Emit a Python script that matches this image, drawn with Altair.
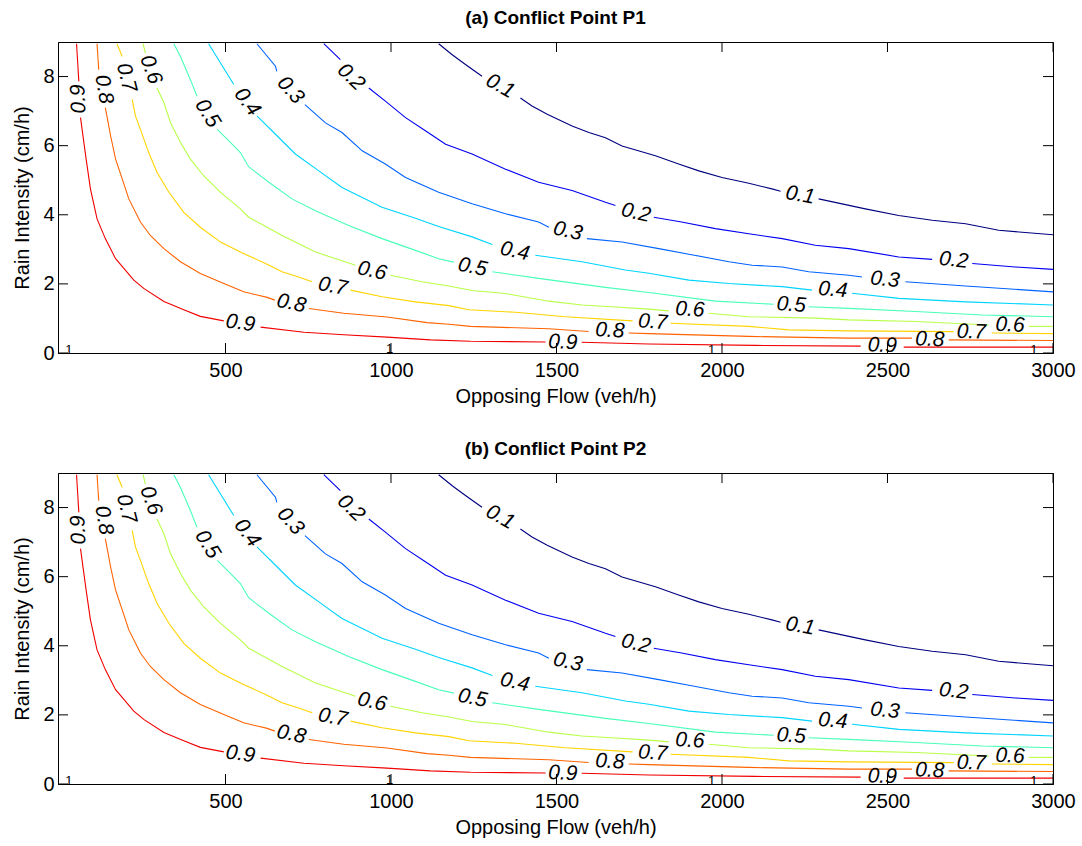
import altair as alt
import pandas as pd

# ---------------- data ----------------
LEVELS = ["0.1", "0.2", "0.3", "0.4", "0.5", "0.6", "0.7", "0.8", "0.9"]
JET = ["#000080", "#0000F1", "#0063FF", "#00D4FF", "#47FFB8",
       "#B8FF47", "#FFD400", "#FF6300", "#F10000"]

X_TICKS = [500, 1000, 1500, 2000, 2500, 3000]
Y_TICKS = [0, 2, 4, 6, 8]

# contour lines: list of visible segments (gaps are where labels sit)
C01 = [
    [(1144, 8.95), (1185, 8.63), (1225, 8.35), (1275, 8.01)],
    [(1391, 7.38), (1426, 7.15), (1472, 6.91), (1547, 6.57), (1598, 6.38), (1648, 6.23),
     (1698, 5.99), (1799, 5.71), (1869, 5.47), (1930, 5.27), (2000, 5.08), (2081, 4.91),
     (2151, 4.75), (2177, 4.68)],
    [(2292, 4.46), (2433, 4.17), (2534, 3.98), (2635, 3.84), (2736, 3.74), (2836, 3.55),
     (3000, 3.42)],
]
C02 = [
    [(797, 8.95), (847, 8.49)],
    [(933, 7.67), (983, 7.29), (1044, 6.81), (1104, 6.43), (1165, 6.04), (1245, 5.76),
     (1346, 5.32), (1446, 4.94), (1547, 4.70), (1648, 4.36), (1678, 4.27)],
    [(1794, 3.93), (1878, 3.79), (1980, 3.60), (2081, 3.45), (2182, 3.31), (2282, 3.12),
     (2383, 3.02), (2534, 2.78), (2635, 2.71)],
    [(2756, 2.59), (2886, 2.49), (3000, 2.42)],
]
C03 = [
    [(595, 8.95), (651, 8.30), (655, 8.15)],
    [(740, 7.19), (802, 6.66), (852, 6.38), (913, 5.85), (983, 5.47), (1044, 5.08),
     (1144, 4.65), (1245, 4.32), (1346, 4.03), (1446, 3.79), (1477, 3.64)],
    [(1592, 3.31), (1698, 3.21), (1809, 3.02), (1900, 2.86), (2021, 2.64), (2091, 2.54),
     (2182, 2.49), (2262, 2.35), (2383, 2.25), (2423, 2.20)],
    [(2554, 2.06), (2736, 1.94), (3000, 1.77)],
]
C04 = [
    [(449, 8.95), (485, 8.39), (525, 7.77)],
    [(595, 6.86), (651, 6.33), (711, 5.76), (782, 5.27), (852, 4.79), (973, 4.22),
     (1074, 3.90), (1144, 3.66), (1245, 3.36), (1306, 3.14)],
    [(1436, 2.83), (1577, 2.64), (1708, 2.40), (1779, 2.31), (1900, 2.11), (2021, 2.01),
     (2182, 1.92), (2272, 1.82)],
    [(2393, 1.73), (2534, 1.58), (2736, 1.48), (3000, 1.39)],
]
C05 = [
    [(344, 8.95), (364, 8.58), (394, 7.91), (414, 7.43)],
    [(475, 6.47), (505, 6.19), (545, 5.80), (570, 5.39), (631, 4.94), (701, 4.46),
     (772, 4.12), (872, 3.69), (973, 3.31), (1074, 2.97), (1144, 2.73), (1190, 2.63)],
    [(1306, 2.35), (1446, 2.16), (1547, 2.03), (1648, 1.90), (1779, 1.75), (1980, 1.50),
     (2156, 1.41)],
    [(2262, 1.34), (2383, 1.29), (2585, 1.20), (2786, 1.10), (3000, 1.05)],
]
C06 = [
    [(251, 8.95), (258, 8.68)],
    [(293, 7.67), (314, 7.24), (334, 6.66), (364, 6.09), (394, 5.61), (434, 5.13),
     (485, 4.65), (545, 4.17), (570, 3.93), (671, 3.40), (772, 2.92), (893, 2.54)],
    [(998, 2.25), (1094, 2.06), (1175, 1.94), (1245, 1.81), (1346, 1.72), (1477, 1.50),
     (1577, 1.39), (1678, 1.33), (1779, 1.27), (1839, 1.22)],
    [(1960, 1.15), (2081, 1.05), (2283, 1.01), (2383, 0.96), (2585, 0.91), (2806, 0.81)],
    [(2927, 0.77), (3000, 0.77)],
]
C07 = [
    [(172, 8.95), (188, 8.58)],
    [(218, 7.34), (228, 6.86), (243, 6.47), (268, 5.80), (293, 5.23), (329, 4.65),
     (374, 4.07), (424, 3.64), (485, 3.21), (545, 2.92), (621, 2.59), (671, 2.35),
     (721, 2.20), (762, 2.06)],
    [(878, 1.82), (973, 1.63), (1074, 1.48), (1175, 1.37), (1235, 1.25), (1376, 1.18),
     (1527, 1.05), (1730, 0.93)],
    [(1845, 0.86), (2081, 0.77), (2202, 0.67), (2383, 0.64), (2700, 0.62)],
    [(2815, 0.58), (3000, 0.56)],
]
C08 = [
    [(112, 8.95), (117, 8.20)],
    [(137, 7.10), (153, 6.28), (168, 5.61), (188, 5.04), (208, 4.46), (243, 3.79),
     (273, 3.40), (314, 3.02), (364, 2.64), (424, 2.30), (495, 2.01), (555, 1.77),
     (626, 1.61), (649, 1.53)],
    [(752, 1.29), (857, 1.15), (988, 1.04), (1109, 0.88), (1175, 0.83), (1240, 0.77),
     (1477, 0.70), (1597, 0.62)],
    [(1718, 0.58), (1779, 0.56), (2081, 0.48), (2383, 0.43), (2574, 0.43)],
    [(2685, 0.38), (3000, 0.36)],
]
C09 = [
    [(50, 8.95), (57, 7.86)],
    [(62, 6.81), (79, 5.61), (92, 4.75), (112, 3.88), (137, 3.31), (168, 2.73),
     (193, 2.45), (223, 2.11), (253, 1.87), (314, 1.49), (374, 1.25), (424, 1.06),
     (495, 0.93)],
    [(606, 0.75), (737, 0.60), (857, 0.53), (988, 0.46), (1119, 0.38), (1240, 0.34),
     (1467, 0.32)],
    [(1576, 0.31), (1779, 0.26), (2100, 0.22), (2419, 0.20)],
    [(2549, 0.17), (3000, 0.17)],
]
CONTOURS = [C01, C02, C03, C04, C05, C06, C07, C08, C09]

# inline contour labels
LBL_LEVEL = ["0.9", "0.8", "0.7", "0.6", "0.5", "0.4", "0.3", "0.2", "0.1",
             "0.9", "0.8", "0.7", "0.6", "0.5", "0.4", "0.3", "0.2", "0.1",
             "0.9", "0.8", "0.7", "0.6", "0.5", "0.4", "0.3", "0.2",
             "0.9", "0.8", "0.7", "0.6"]
LBL_X = [57, 132, 200, 274, 445, 565, 696, 879, 1330,
         545, 699, 824, 943, 1246, 1374, 1534, 1740, 2236,
         1519, 1661, 1791, 1903, 2209, 2335, 2492, 2700,
         2484, 2628, 2753, 2870]
LBL_Y = [7.35, 7.63, 7.97, 8.20, 6.93, 7.26, 7.60, 7.98, 7.72,
         0.86, 1.43, 1.92, 2.37, 2.48, 2.94, 3.52, 4.05, 4.56,
         0.30, 0.64, 0.89, 1.25, 1.39, 1.82, 2.12, 2.68,
         0.21, 0.38, 0.60, 0.80]
LBL_ANGLE = [267, 80, 76, 70, 58, 53, 48, 44, 29,
             8, 12, 11, 13, 12, 12, 13, 13, 10,
             2, 3, 4, 3, 4, 5, 6, 6,
             2, 2, 2, 2]

# the barely visible "1" level labels on the bottom edge
ONE_X = [27, 996, 1969, 2942]
ONE_Y = [0.1, 0.12, 0.1, 0.1]

# ---------------- tables ----------------
rows = []
for lev, segs in zip(LEVELS, CONTOURS):
    for si, seg in enumerate(segs):
        for pi, (x, y) in enumerate(seg):
            rows.append({"level": lev, "seg": f"{lev}-{si}", "ord": pi, "x": x, "y": y})
lines_df = pd.DataFrame(rows)
labels_df = pd.DataFrame({"level": LBL_LEVEL, "x": LBL_X, "y": LBL_Y, "ang": LBL_ANGLE})
ones_df = pd.DataFrame({"x": ONE_X, "y": ONE_Y, "t": ["1"] * len(ONE_X)})
xt_df = pd.DataFrame({"x": X_TICKS})
yt_df = pd.DataFrame({"y": Y_TICKS})

FONT = "Liberation Sans"
W, H = 995, 311
XS = alt.Scale(domain=[-6, 3000], nice=False, zero=False)
YS = alt.Scale(domain=[0, 9], nice=False, zero=False)
XA = alt.Axis(values=X_TICKS, format="d", title="Opposing Flow (veh/h)",
              labelPadding=7, titlePadding=6, labelFlush=False, labelOverlap=False)
YA = alt.Axis(values=Y_TICKS, format="d", title="Rain Intensity (cm/h)",
              labelPadding=4, titlePadding=10, labelFlush=False, labelOverlap=False)


def X():
    return alt.X("x:Q", scale=XS, axis=XA)


def Y():
    return alt.Y("y:Q", scale=YS, axis=YA)


def panel(title):
    lines = alt.Chart(lines_df).mark_line(strokeWidth=1.1, clip=True).encode(
        x=X(), y=Y(),
        color=alt.Color("level:N", scale=alt.Scale(domain=LEVELS, range=JET), legend=None),
        detail="seg:N",
        order="ord:Q",
    )
    labels = alt.Chart(labels_df).mark_text(
        font=FONT, fontSize=21, fontStyle="italic", color="black",
        align="center", baseline="middle"
    ).encode(
        x=X(), y=Y(),
        text="level:N",
        angle=alt.Angle("ang:Q", scale=None),
    )
    ones = alt.Chart(ones_df).mark_text(
        font=FONT, fontSize=13, color="black", align="center", baseline="middle", clip=True
    ).encode(x=X(), y=Y(), text="t:N")
    tb = alt.Chart(xt_df).mark_rule(color="black", strokeWidth=1).encode(
        x=X(), y=alt.value(H), y2=alt.value(H - 10))
    tt = alt.Chart(xt_df).mark_rule(color="black", strokeWidth=1).encode(
        x=X(), y=alt.value(0), y2=alt.value(10))
    tl = alt.Chart(yt_df).mark_rule(color="black", strokeWidth=1).encode(
        y=Y(), x=alt.value(0), x2=alt.value(10))
    tr = alt.Chart(yt_df).mark_rule(color="black", strokeWidth=1).encode(
        y=Y(), x=alt.value(W), x2=alt.value(W - 10))
    return alt.layer(lines, labels, ones, tb, tt, tl, tr).properties(
        width=W, height=H,
        title=alt.TitleParams(title, font=FONT, fontSize=19, fontWeight="bold",
                              color="black", anchor="middle", offset=14),
    )


chart = alt.vconcat(
    panel("(a) Conflict Point P1"),
    panel("(b) Conflict Point P2"),
    spacing=32,
).properties(
    padding={"left": 12, "top": 8, "right": 0, "bottom": 0},
    background="white",
).configure_view(
    stroke="black", strokeWidth=1
).configure_axis(
    grid=False, ticks=False, tickSize=0, domain=True, domainColor="black", domainWidth=1,
    labelFont=FONT, labelFontSize=20, labelColor="black",
    titleFont=FONT, titleFontSize=20, titleFontWeight="normal", titleColor="black",
)

chart.save("out.html", embed_options={"renderer": "svg", "actions": False})
